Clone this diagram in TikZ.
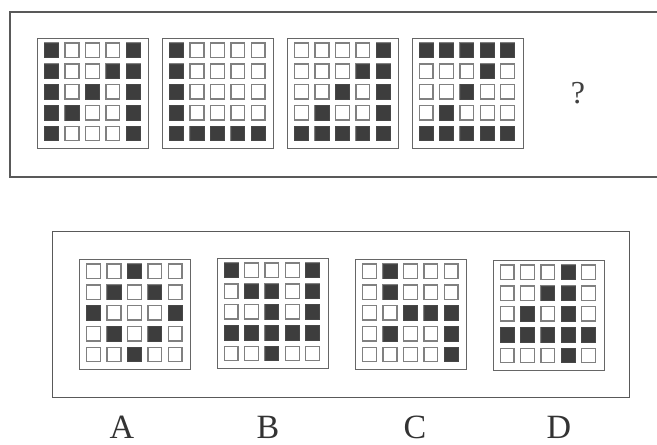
\documentclass[tikz,border=0pt]{standalone}
\usepackage{fontspec}
\setmainfont{Liberation Serif}
\tikzset{
  frame/.style={draw=black!65, line width=1.1pt},
  gridbox/.style={draw=black!60, line width=1.1pt, minimum width=111pt, minimum height=110pt, inner sep=0pt, anchor=north west},
  cellempty/.style={draw=black!50, line width=1.3pt, fill=white},
  cellfull/.style={draw=black!72, fill=black!76, line width=0.8pt},
  lbl/.style={font=\fontsize{34}{34}\selectfont, text=black!80, inner sep=0pt},
  qmark/.style={font=\fontsize{32}{32}\selectfont, text=black!75, inner sep=0pt},
}
\newcommand{\qgrid}[4]{%
  \node[gridbox] (#1) at (#2,-#3) {};
  \foreach \r in {1,...,5}{
    \foreach \c in {1,...,5}{
      \pgfmathsetmacro{\cx}{#2+7.7+(\c-1)*20.4}
      \pgfmathsetmacro{\cy}{-(#3+5.6+(\r-1)*20.8)}
      \draw[cellempty] (\cx,\cy) rectangle ++(13.8,-14.4);
    }
  }
  \foreach \r/\c in {#4}{
    \pgfmathsetmacro{\cx}{#2+7.7+(\c-1)*20.4}
    \pgfmathsetmacro{\cy}{-(#3+5.6+(\r-1)*20.8)}
    \draw[cellfull] (\cx,\cy) rectangle ++(13.8,-14.4);
  }
}
\begin{document}
\begin{tikzpicture}[x=1pt,y=1pt]
  \useasboundingbox (0,0) rectangle (657,-445);
  % top frame (open at right)
  \draw[frame] (657,-12) -- (10,-12) -- (10,-177) -- (657,-177);
  \qgrid{g1}{37}{37.5}{1/1,1/5,2/1,2/4,2/5,3/1,3/3,3/5,4/1,4/2,4/5,5/1,5/5}
  \qgrid{g2}{162}{37.5}{1/1,2/1,3/1,4/1,5/1,5/2,5/3,5/4,5/5}
  \qgrid{g3}{287}{37.5}{1/5,2/4,2/5,3/3,3/5,4/2,4/5,5/1,5/2,5/3,5/4,5/5}
  \qgrid{g4}{411.5}{37.5}{1/1,1/2,1/3,1/4,1/5,2/4,3/3,4/2,5/1,5/2,5/3,5/4,5/5}
  \node[qmark] (q) at (578,-93) {?};
  % bottom frame
  \node[frame, minimum width=577pt, minimum height=166pt, inner sep=0pt, anchor=north west] (opts) at (52,-231) {};
  \qgrid{ga}{79}{258.5}{1/3,2/2,2/4,3/1,3/5,4/2,4/4,5/3}
  \qgrid{gb}{216.5}{257.5}{1/1,1/5,2/2,2/3,2/5,3/3,3/5,4/1,4/2,4/3,4/4,4/5,5/3}
  \qgrid{gc}{355}{258.5}{1/2,2/2,3/3,3/4,3/5,4/2,4/5,5/5}
  \qgrid{gd}{492.5}{259.5}{1/4,2/3,2/4,3/2,3/4,4/1,4/2,4/3,4/4,4/5,5/4}
  \node[lbl] (la) at (122,-427) {A};
  \node[lbl] (lb) at (268,-427) {B};
  \node[lbl] (lc) at (415,-427) {C};
  \node[lbl] (ld) at (559,-427) {D};
\end{tikzpicture}
\end{document}
